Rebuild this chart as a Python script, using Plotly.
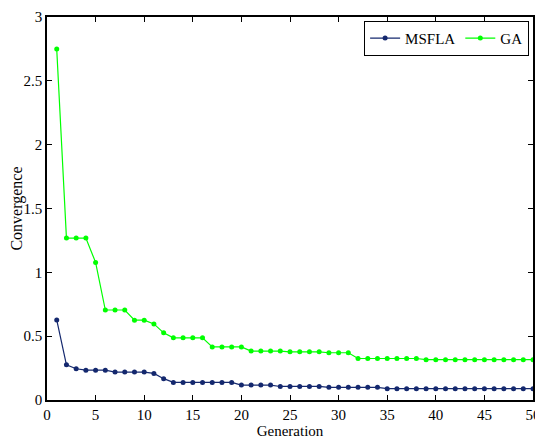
import plotly.graph_objects as go

# generations 1..50
geracoes = list(range(1, 51))

msfla = [0.627, 0.276, 0.245, 0.234, 0.234, 0.234, 0.219, 0.219, 0.219, 0.219,
         0.208, 0.167, 0.138, 0.138, 0.138, 0.138, 0.138, 0.138, 0.138, 0.117,
         0.117, 0.117, 0.117, 0.106, 0.106, 0.106, 0.106, 0.106, 0.099, 0.099,
         0.099, 0.099, 0.099, 0.099, 0.089, 0.089, 0.089, 0.089, 0.089, 0.089,
         0.089, 0.089, 0.089, 0.089, 0.089, 0.089, 0.089, 0.089, 0.089, 0.089]

ga = [2.75, 1.268, 1.268, 1.268, 1.078, 0.705, 0.705, 0.705, 0.625, 0.625,
      0.596, 0.526, 0.487, 0.487, 0.487, 0.487, 0.416, 0.416, 0.416, 0.416,
      0.383, 0.383, 0.383, 0.383, 0.377, 0.377, 0.377, 0.377, 0.37, 0.37,
      0.37, 0.325, 0.325, 0.325, 0.325, 0.325, 0.325, 0.325, 0.316, 0.316,
      0.316, 0.316, 0.316, 0.316, 0.316, 0.316, 0.316, 0.316, 0.316, 0.316]

serif = "'Liberation Serif', 'Times New Roman', serif"
fonte = dict(family=serif, size=15, color="black")

fig = go.Figure()

fig.add_trace(go.Scatter(
    x=geracoes, y=msfla, mode='lines+markers', name='MSFLA',
    line=dict(color='#14286e', width=1.2),
    marker=dict(color='#14286e', size=5)
))

fig.add_trace(go.Scatter(
    x=geracoes, y=ga, mode='lines+markers', name='GA',
    line=dict(color='#00ff00', width=1.2),
    marker=dict(color='#00ff00', size=5)
))

eixo = dict(showline=True, linecolor='black', linewidth=1.5, mirror='ticks',
            ticks='inside', ticklen=5, tickcolor='black', showgrid=False,
            zeroline=False, tickfont=fonte, automargin=False)

# a página tem margem de 8px no body, por isso a figura é um pouco menor
fig.update_layout(
    width=535, height=433,
    margin=dict(l=39, r=10, t=9, b=41),
    paper_bgcolor='white', plot_bgcolor='white',
    font=fonte,
    showlegend=True,
    legend=dict(orientation='h', x=0.992, xanchor='right', y=0.99, yanchor='top',
                bordercolor='black', borderwidth=1, bgcolor='white',
                font=dict(family=serif, size=15, color='black'),
                itemwidth=30, tracegroupgap=0),
    xaxis=dict(eixo, range=[0, 50], tick0=0, dtick=5,
               title=dict(text='Generation', standoff=2, font=fonte)),
    yaxis=dict(eixo, range=[0, 3], tick0=0, dtick=0.5,
               title=dict(text='Convergence', standoff=4, font=dict(family=serif, size=16, color='black'))),
)

fig.write_html("out.html")
